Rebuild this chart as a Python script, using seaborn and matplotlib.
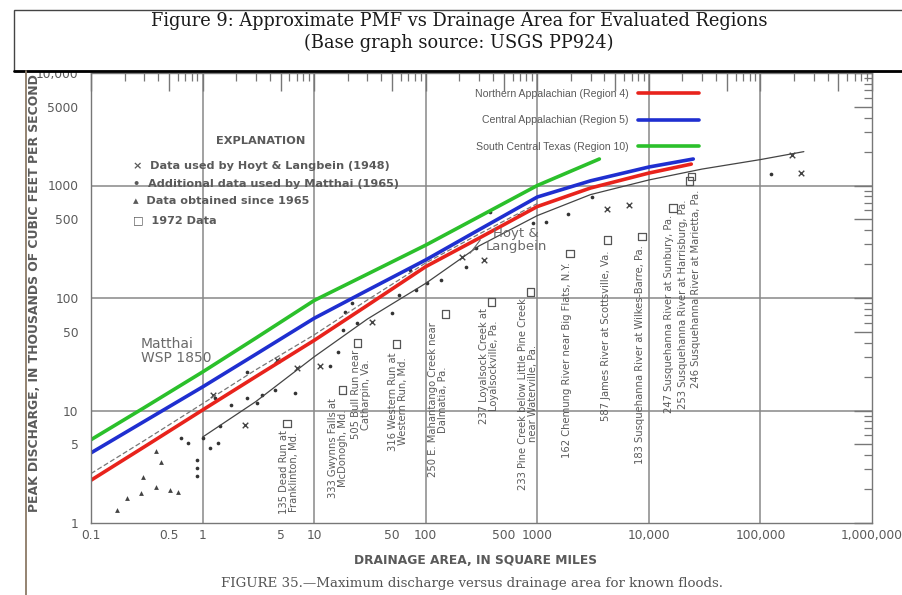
import matplotlib
matplotlib.use("Agg")
import matplotlib.pyplot as plt
import matplotlib.ticker as mticker
from matplotlib.lines import Line2D
from matplotlib.patches import Rectangle
import seaborn as sns

# -------------------------------
# Values
# -------------------------------

# PMF envelope curves (drainage area sq mi, peak discharge 1000 cfs)
red_area = [0.1, 0.3, 1, 3, 10, 30, 100, 300, 1000, 3000, 10000, 24000]
red_q = [2.4, 4.75, 10.1, 20, 42, 86, 190, 340, 650, 950, 1290, 1550]

blue_area = [0.1, 0.3, 1, 3, 10, 30, 100, 300, 1000, 3000, 10000, 25000]
blue_q = [4.2, 8.0, 16.2, 31.6, 66, 117, 218, 404, 790, 1100, 1460, 1720]

green_area = [0.1, 0.3, 1, 3, 10, 30, 100, 300, 1000, 3600]
green_q = [5.5, 10.6, 22, 44, 95, 163, 295, 528, 1000, 1720]

# base graph curves
hoyt_area = [1, 3, 10, 30, 100, 300, 1000, 3000, 10000, 30000, 100000, 245000]
hoyt_q = [5.8, 12, 30, 65, 135, 290, 540, 830, 1120, 1400, 1700, 2000]

matthai_area = [0.1, 0.3, 1, 3, 10, 30, 100, 300, 1000]
matthai_q = [2.75, 5.4, 11.5, 23, 47, 96, 205, 370, 690]

# observed floods
cross_area = [1.23, 2.4, 4.6, 7, 11.2, 33, 210, 330, 4200, 6700, 190000, 230000]
cross_q = [13.8, 7.4, 28, 24, 24.9, 61, 230, 218, 620, 670, 1880, 1290]

dot_area = [0.64, 0.74, 0.89, 0.89, 0.89, 1.0, 1.17, 1.37, 1.43, 1.8, 2.5, 3.1,
            3.4, 4.45, 6.8, 1.3, 2.5, 13.8, 16.2, 18, 24, 18.8, 22, 50, 72, 82,
            58, 102, 138, 232, 285, 380, 690, 910, 1200, 1900, 3100, 124000]
dot_q = [5.7, 5.1, 3.6, 3.1, 2.6, 5.7, 4.6, 5.1, 7.3, 11.2, 12.9, 11.7,
         13.7, 15.2, 14.3, 13, 22, 25, 33, 52, 60, 75, 90, 73, 177, 118,
         107, 135, 145, 190, 280, 580, 545, 460, 475, 560, 790, 1260]

tri_area = [0.17, 0.21, 0.28, 0.29, 0.38, 0.51, 0.6, 0.38, 0.42]
tri_q = [1.3, 1.67, 1.85, 2.56, 2.1, 1.96, 1.89, 4.4, 3.5]

sq_area = [5.7, 18, 24.6, 55, 151, 390, 870, 1960, 4270, 8700, 16500, 23000, 24000]
sq_q = [7.7, 15.2, 39.8, 39, 72, 92, 113, 250, 327, 350, 630, 1100, 1200]

# 1972 site labels
site_labels = [
    "135 Dead Run at\nFranklinton, Md.",
    "333 Gwynns Falls at\nMcDonogh, Md.",
    "505 Bull Run near\nCatharpin, Va.",
    "316 Western Run at\nWestern Run, Md.",
    "250 E. Mahantango Creek near\nDalmatia, Pa.",
    "237 Loyalsock Creek at\nLoyalsockville, Pa.",
    "233 Pine Creek below Little Pine Creek\nnear Waterville, Pa.",
    "162 Chemung River near Big Flats, N.Y.",
    "587 James River at Scottsville, Va.",
    "183 Susquehanna River at Wilkes-Barre, Pa.",
    "247 Susquehanna River at Sunbury, Pa.",
    "253 Susquehanna River at Harrisburg, Pa.",
    "246 Susquehanna River at Marietta, Pa.",
]
site_label_x = [5.93, 16.3, 26.1, 56, 128, 366, 834, 1860, 4170, 8400, 15200, 20400, 26600]
site_label_top = [6.7, 12.9, 34.5, 33, 61, 81, 100, 208, 265, 295, 545, 745, 910]

x_ticks = [0.1, 0.5, 1, 5, 10, 50, 100, 500, 1000, 5000, 10000, 50000,
           100000, 500000, 1000000]
x_tick_labels = ["0.1", "0.5", "1", "5", "10", "50", "100", "500", "1000", "",
                 "10,000", "", "100,000", "", "1,000,000"]
y_ticks = [1, 5, 10, 50, 100, 500, 1000, 5000, 10000]
y_tick_labels = ["1", "5", "10", "50", "100", "500", "1000", "5000", "10,000"]
grid_x = [1, 10, 100, 1000, 10000, 100000]
grid_y = [10, 100, 1000]

# -------------------------------
# Figure
# -------------------------------

sns.set_style("white")
plt.rcParams["font.family"] = ["DejaVu Sans"]

W, H = 902, 595
fig = plt.figure(figsize=(W / 100, H / 100), dpi=100)
ax = fig.add_axes([91 / W, 1 - 523 / H, (872 - 91) / W, (523 - 73) / H])
ax.set_xscale("log")
ax.set_yscale("log")
ax.set_xlim(0.1, 1e6)
ax.set_ylim(1, 10000)

gray = "#5a5a5a"
for v in grid_x:
    ax.axvline(v, color="#888888", lw=1.1, zorder=0)
for v in grid_y:
    ax.axhline(v, color="#888888", lw=1.1, zorder=0)

# base graph curves
sns.lineplot(x=hoyt_area, y=hoyt_q, ax=ax, color="#444444", lw=0.9)
sns.lineplot(x=matthai_area, y=matthai_q, ax=ax, color="#777777", lw=0.9,
             linestyle=(0, (4, 2)))

# observed data
sns.scatterplot(x=cross_area, y=cross_q, ax=ax, marker="x", color="#444444",
                s=16, linewidth=1)
sns.scatterplot(x=dot_area, y=dot_q, ax=ax, marker="o", color="#333333",
                s=7, linewidth=0)
sns.scatterplot(x=tri_area, y=tri_q, ax=ax, marker="^", color="#444444",
                s=12, linewidth=0)
sns.scatterplot(x=sq_area, y=sq_q, ax=ax, marker="s", facecolor="none",
                edgecolor="#555555", s=28, linewidth=0.9)

# PMF curves
sns.lineplot(x=red_area, y=red_q, ax=ax, color="#e8231c", lw=2.6,
             label="Northern Appalachian (Region 4)")
sns.lineplot(x=blue_area, y=blue_q, ax=ax, color="#1f2fd0", lw=2.6,
             label="Central Appalachian (Region 5)")
sns.lineplot(x=green_area, y=green_q, ax=ax, color="#2bc02b", lw=2.6,
             label="South Central Texas (Region 10)")

handles, labels = ax.get_legend_handles_labels()
leg = ax.legend(handles, labels, markerfirst=False, frameon=False,
                loc="upper right", bbox_to_anchor=(699 / W, 1 - 89 / H),
                bbox_transform=fig.transFigure,
                prop={"family": "Liberation Sans", "size": 7.6},
                handlelength=5.8, labelspacing=1.55, borderpad=0,
                borderaxespad=0, handletextpad=0.9)
for t in leg.get_texts():
    t.set_color(gray)

# ticks
ax.xaxis.set_major_locator(mticker.FixedLocator(x_ticks))
ax.xaxis.set_major_formatter(mticker.FixedFormatter(x_tick_labels))
ax.yaxis.set_major_locator(mticker.FixedLocator(y_ticks))
ax.yaxis.set_major_formatter(mticker.FixedFormatter(y_tick_labels))
ax.xaxis.set_minor_locator(mticker.LogLocator(base=10, subs=[2, 3, 4, 6, 7, 8, 9], numticks=20))
ax.yaxis.set_minor_locator(mticker.LogLocator(base=10, subs=[2, 3, 4, 6, 7, 8, 9], numticks=20))
ax.xaxis.set_minor_formatter(mticker.NullFormatter())
ax.yaxis.set_minor_formatter(mticker.NullFormatter())
ax.tick_params(which="both", direction="in", top=True, right=True,
               color="#777777", labelcolor=gray, labelsize=8.8)
ax.tick_params(which="major", length=13, width=1)
ax.tick_params(which="minor", length=6, width=0.9)
ax.tick_params(axis="x", pad=4)
ax.tick_params(axis="y", pad=9)
for s in ax.spines.values():
    s.set_color("#777777")
    s.set_linewidth(1)

# site labels
for name, lx, ly in zip(site_labels, site_label_x, site_label_top):
    ax.text(lx, ly, name, rotation=90, ha="center", va="top", fontsize=7.2,
            color=gray, multialignment="center", linespacing=1.0)

# curve labels
ax.text((141 - 91) / 781, 1 - (351 - 73) / 450,
        "Matthai\nWSP 1850", transform=ax.transAxes, ha="left", va="center",
        fontsize=10, color="#6a6a6a", linespacing=1.05)
ax.annotate("Hoyt &\nLangbein", xy=(250, 250), xytext=(516 / W, 1 - 240 / H),
            textcoords="figure fraction", ha="center", va="center",
            fontsize=9.5, color="#6a6a6a", multialignment="center",
            linespacing=1.05,
            arrowprops=dict(arrowstyle="-", color="#666666", lw=0.8,
                            shrinkA=2, shrinkB=0,
                            relpos=(0.0, 0.75)))

# explanation block
fig.text(261 / W, 1 - 141 / H, "EXPLANATION", ha="center", va="center",
         fontsize=8.2, fontweight="bold", color=gray)
explain = ["×  Data used by Hoyt & Langbein (1948)",
           "•  Additional data used by Matthai (1965)",
           "▴  Data obtained since 1965",
           "□  1972 Data"]
for txt, py in zip(explain, [166, 184, 201, 220]):
    fig.text(133 / W, 1 - py / H, txt, ha="left", va="center", fontsize=8.1,
             fontweight="bold", color=gray)

# axis titles and caption
fig.text(476 / W, 1 - 560 / H, "DRAINAGE AREA, IN SQUARE MILES", ha="center",
         va="center", fontsize=8.8, fontweight="bold", color=gray)
fig.text(35 / W, 1 - 293 / H,
         "PEAK DISCHARGE, IN THOUSANDS OF CUBIC FEET PER SECOND",
         rotation=90, ha="center", va="center", fontsize=8.9,
         fontweight="bold", color=gray)
fig.text(472 / W, 1 - 583 / H,
         "FIGURE 35.—Maximum discharge versus drainage area for known floods.",
         ha="center", va="center", fontsize=9.6, family="DejaVu Serif",
         color="#555555")

# title box
fig.add_artist(Rectangle((14 / W, 1 - 71 / H), (W - 14) / W + 0.01, 61 / H,
                         transform=fig.transFigure, facecolor="white",
                         edgecolor="#444444", lw=1, zorder=5))
fig.add_artist(Line2D([14 / W, 1], [1 - 71 / H, 1 - 71 / H],
                      transform=fig.transFigure, color="black", lw=2, zorder=6))
fig.add_artist(Line2D([26 / W, 26 / W], [0, 1 - 71 / H],
                      transform=fig.transFigure, color="#8b7a66", lw=1.3, zorder=6))
fig.text(459 / W, 1 - 21 / H,
         "Figure 9: Approximate PMF vs Drainage Area for Evaluated Regions",
         ha="center", va="center", fontsize=12.8, family="DejaVu Serif",
         color="#1a1a1a", zorder=7)
fig.text(459 / W, 1 - 43 / H, "(Base graph source: USGS PP924)",
         ha="center", va="center", fontsize=12.8, family="DejaVu Serif",
         color="#1a1a1a", zorder=7)

fig.savefig("out.png", dpi=100)
plt.close(fig)
